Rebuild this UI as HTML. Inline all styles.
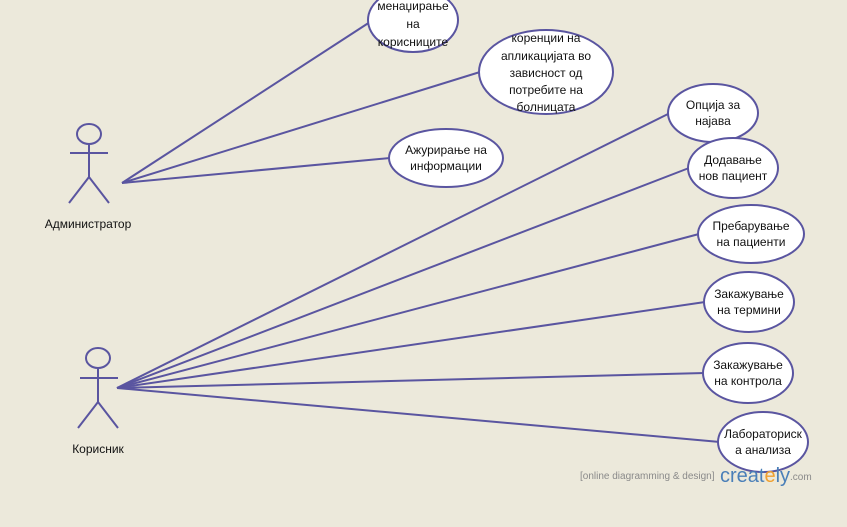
<!DOCTYPE html>
<html><head><meta charset="utf-8"><style>
html,body{margin:0;padding:0;background:#ece9db;}
svg{display:block;}
text{font-family:"Liberation Sans",Arial,sans-serif;font-size:12px;fill:#111;}
</style></head><body>
<svg width="847" height="527" viewBox="0 0 847 527" xmlns="http://www.w3.org/2000/svg">
<rect width="847" height="527" fill="#ece9db"/>
<g stroke="#5a55a0" stroke-width="2" fill="none">
<line x1="122" y1="183" x2="370" y2="22"/>
<line x1="122" y1="183" x2="480" y2="72"/>
<line x1="122" y1="183" x2="390" y2="158"/>
<line x1="117" y1="388" x2="670" y2="113"/>
<line x1="117" y1="388" x2="689" y2="168"/>
<line x1="117" y1="388" x2="699" y2="234"/>
<line x1="117" y1="388" x2="705" y2="302"/>
<line x1="117" y1="388" x2="705" y2="373"/>
<line x1="117" y1="388" x2="720" y2="442"/>
<!-- admin -->
<ellipse cx="89" cy="134" rx="12" ry="10"/>
<line x1="89" y1="144" x2="89" y2="177"/>
<line x1="70" y1="153" x2="108" y2="153"/>
<line x1="89" y1="177" x2="69" y2="203"/>
<line x1="89" y1="177" x2="109" y2="203"/>
<!-- user -->
<ellipse cx="98" cy="358" rx="12" ry="10"/>
<line x1="98" y1="368" x2="98" y2="402"/>
<line x1="80" y1="378" x2="118" y2="378"/>
<line x1="98" y1="402" x2="78" y2="428"/>
<line x1="98" y1="402" x2="118" y2="428"/>
</g>
<g stroke="#5a55a0" stroke-width="2" fill="#fff">
<ellipse cx="413" cy="20" rx="45" ry="32"/>
<ellipse cx="546" cy="72" rx="67" ry="42"/>
<ellipse cx="446" cy="158" rx="57" ry="29"/>
<ellipse cx="713" cy="113" rx="45" ry="29"/>
<ellipse cx="733" cy="168" rx="45" ry="30"/>
<ellipse cx="751" cy="234" rx="53" ry="29"/>
<ellipse cx="749" cy="302" rx="45" ry="30"/>
<ellipse cx="748" cy="373" rx="45" ry="30"/>
<ellipse cx="763" cy="442" rx="45" ry="30"/>
</g>
<g text-anchor="middle">
<text x="413" y="10">менаџирање</text>
<text x="413" y="28">на</text>
<text x="413" y="46">корисниците</text>
<text x="546" y="42">коренции на</text>
<text x="546" y="60">апликацијата во</text>
<text x="546" y="77">зависност од</text>
<text x="546" y="94">потребите на</text>
<text x="546" y="111">болницата</text>
<text x="446" y="154">Ажурирање на</text>
<text x="446" y="170">информации</text>
<text x="713" y="109">Опција за</text>
<text x="713" y="125">најава</text>
<text x="733" y="164">Додавање</text>
<text x="733" y="180">нов пациент</text>
<text x="751" y="230">Пребарување</text>
<text x="751" y="246">на пациенти</text>
<text x="749" y="298">Закажување</text>
<text x="749" y="314">на термини</text>
<text x="748" y="369">Закажување</text>
<text x="748" y="385">на контрола</text>
<text x="763" y="438">Лабораториск</text>
<text x="763" y="454">а анализа</text>
<text x="88" y="228">Администратор</text>
<text x="98" y="453">Корисник</text>
</g>
<text x="580" y="479" style="font-size:10px;fill:#8a8a8a">[online diagramming &amp; design]</text>
<text x="720" y="482" style="font-size:20px;fill:#4a7fb8">creat<tspan fill="#f0a030">e</tspan>ly</text>
<text x="790" y="480" style="font-size:10px;fill:#8a8a8a">.com</text>
</svg>
</body></html>
